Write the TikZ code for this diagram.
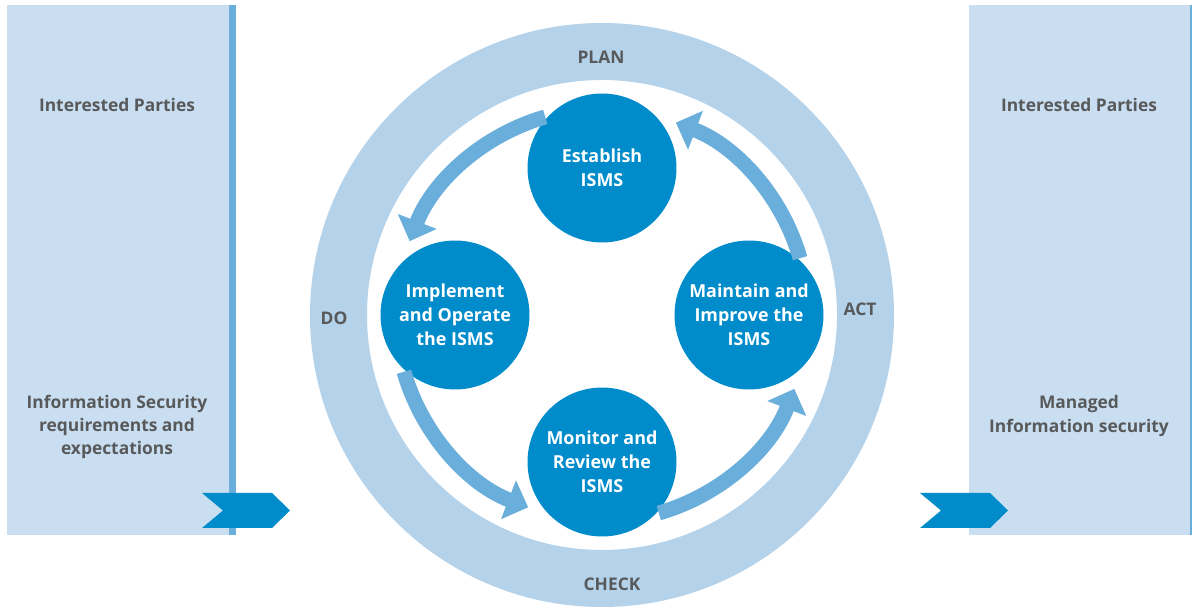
\documentclass[tikz,border=0pt]{standalone}
\usepackage{fontspec}
\setmainfont{Open Sans}
\usepackage{tikz}
\usetikzlibrary{calc,positioning,arrows.meta}
\definecolor{panelBlue}{HTML}{C9DFF1}
\definecolor{stripeBlue}{HTML}{6AAEDB}
\definecolor{ringBlue}{HTML}{B4D2EA}
\definecolor{ismsBlue}{HTML}{008BCB}
\definecolor{textGray}{HTML}{58595B}

\tikzset{
  grayText/.style={text=textGray, align=center, font=\bfseries\fontsize{9.9}{13.3}\selectfont},
  ismsStep/.style={circle, fill=ismsBlue, minimum size=2.98cm, inner sep=0pt, text=white,
    align=center, font=\bfseries\fontsize{10.2}{13.6}\selectfont},
  cycleArrow/.style={stripeBlue, line width=8.5pt, -{Triangle[width=23pt,length=12pt]}}
}

\begin{document}
\begin{tikzpicture}[x=0.02cm,y=0.02cm]
  \useasboundingbox (0,0) rectangle (1192,611);

  \def\rRing{263.5}
  \def\rArrow{206}
  \def\dStep{147}
  \coordinate (hub) at (602,296);

  % draw the side panels
  \fill[panelBlue] (7,76) rectangle (229,606);
  \fill[stripeBlue] (229,76) rectangle (236,606);
  \fill[panelBlue] (969,76) rectangle (1190,606);
  \fill[stripeBlue] (1190,76) rectangle (1192,606);

  \node[grayText] (partiesIn) at (117,506) {Interested Parties};
  \node[grayText] (expect) at (117,184) {Information Security\\requirements and\\expectations};
  \node[grayText] (partiesOut) at (1079,506) {Interested Parties};
  \node[grayText] (managed) at (1079,195) {Managed\\Information security};

  % draw the chevrons
  \foreach \x in {202,920}
    \fill[ismsBlue] (\x,118) -- ++(70,0) -- ++(18,-17.5) -- ++(-18,-17.5) -- ++(-70,0) -- ++(21,17.5) -- cycle;

  % draw the PDCA ring
  \draw[ringBlue, line width=1.14cm] (hub) circle [radius=\rRing];
  \node[grayText] (plan) at (601,554) {PLAN};
  \node[grayText] (do) at (334,293) {DO};
  \node[grayText] (check) at (612,27) {CHECK};
  \node[grayText] (act) at (860,302) {ACT};

  % draw the ISMS steps
  \foreach \name/\txt [count=\ni] in {
      maintain/{Maintain and\\Improve the\\ISMS},
      establish/{Establish\\ISMS},
      implement/{Implement\\and Operate\\the ISMS},
      monitor/{Monitor and\\Review the\\ISMS}}
  {
    \pgfmathsetmacro\cAngle{(\ni-1)*90}
    \node[ismsStep] (\name) at ($(hub)+(\cAngle:\dStep)$) {\txt};
  }

  % draw the cycle arrows
  \foreach \k in {0,...,3}
  {
    \pgfmathsetmacro\sAngle{90*\k+16}
    \pgfmathsetmacro\eAngle{90*\k+69}
    \draw[cycleArrow] (hub) ++(\sAngle:\rArrow) arc [start angle=\sAngle, end angle=\eAngle, radius=\rArrow];
  }

\end{tikzpicture}
\end{document}
